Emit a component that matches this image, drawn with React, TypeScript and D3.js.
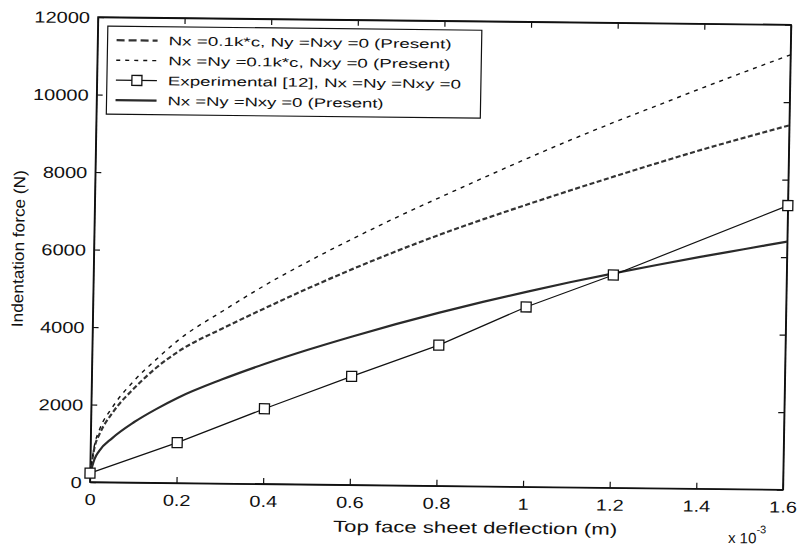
// Indentation force vs top face sheet deflection (scanned MATLAB figure)
import React, { useEffect, useRef } from 'react'
import * as d3 from 'd3'

// deflection in units of 10^-3 m, shared by the three "Present" curves
const deflection = [
  0, 0.01, 0.02, 0.05, 0.1, 0.15, 0.2, 0.3, 0.4, 0.5, 0.6, 0.7, 0.8, 0.9, 1.0,
  1.1, 1.2, 1.3, 1.4, 1.5, 1.6,
]
// Nx = 0.1k*c, Ny = Nxy = 0
const forceNx = [
  200, 930, 1230, 1800, 2450, 2980, 3400, 4000, 4550, 5080, 5580, 6050, 6490,
  6900, 7290, 7670, 8040, 8400, 8750, 9080, 9400,
]
// Nx = Ny = 0.1k*c, Nxy = 0
const forceNxNy = [
  200, 1000, 1350, 1950, 2650, 3200, 3700, 4450, 5150, 5780, 6370, 6930, 7460,
  7980, 8490, 8980, 9450, 9900, 10350, 10790, 11220,
]
// Nx = Ny = Nxy = 0
const forceZero = [
  200, 600, 800, 1140, 1560, 1900, 2200, 2680, 3100, 3480, 3830, 4160, 4470,
  4760, 5030, 5290, 5530, 5760, 5980, 6190, 6400,
]
// Experimental [12]
const expDeflection = [0, 0.2, 0.4, 0.6, 0.8, 1.0, 1.2, 1.6]
const expForce = [230, 1040, 1940, 2800, 3630, 4640, 5490, 7330]

const xTicks = [0, 0.2, 0.4, 0.6, 0.8, 1, 1.2, 1.4, 1.6]
const yTicks = [0, 2000, 4000, 6000, 8000, 10000, 12000]

const legendLabels = [
  'Nx =0.1k*c, Ny =Nxy =0 (Present)',
  'Nx =Ny =0.1k*c, Nxy =0 (Present)',
  'Experimental [12], Nx =Ny =Nxy =0',
  'Nx =Ny =Nxy =0 (Present)',
]
const legendWidths = [283, 282, 293, 216]

const FONT = "'Liberation Sans', Arial, Helvetica, sans-serif"

export default function App() {
  const ref = useRef<HTMLDivElement>(null)

  useEffect(() => {
    const root = d3.select(ref.current)
    root.selectAll('*').remove()

    const width = 693,
      height = 465

    const svg = root
      .append('svg')
      .attr('width', 797)
      .attr('height', 549)
      .style('position', 'absolute')
      .style('left', 0)
      .style('top', 0)
      .style('background', '#fff')

    // the scan is slightly tilted / sheared, so the whole figure is too
    const g = svg
      .append('g')
      .attr('transform', 'matrix(1,0.011,-0.0175,1,98,17)')

    const x = d3.scaleLinear().domain([0, 1.6]).range([0, width])
    const y = d3.scaleLinear().domain([0, 12000]).range([height, 0])

    // frame
    g.append('rect')
      .attr('width', width)
      .attr('height', height)
      .attr('fill', 'none')
      .attr('stroke', '#111')
      .attr('stroke-width', 1.4)

    // axes with inward ticks (matlab style)
    const xAxis = g
      .append('g')
      .attr('transform', 'translate(0,' + height + ')')
      .call(
        d3
          .axisBottom(x)
          .tickValues(xTicks)
          .tickSizeInner(-6)
          .tickSizeOuter(0)
          .tickFormat((d) => String(d))
      )
    xAxis
      .selectAll('text')
      .attr('y', 23)
      .attr('dy', null)
      .attr('transform', 'scale(1.25,1)')

    const yAxis = g.append('g').call(
      d3
        .axisLeft(y)
        .tickValues(yTicks)
        .tickSizeInner(-6)
        .tickSizeOuter(0)
        .tickFormat((d) => String(d))
    )
    yAxis
      .selectAll('text')
      .attr('x', 0)
      .attr('dy', '0.36em')
      .attr('transform', 'translate(-8,0) scale(1.25,1)')

    g.append('g').call(
      d3.axisTop(x).tickValues(xTicks).tickSizeInner(-6).tickSizeOuter(0).tickFormat(() => '')
    )
    g.append('g')
      .attr('transform', 'translate(' + width + ',0)')
      .call(
        d3.axisRight(y).tickValues(yTicks).tickSizeInner(-6).tickSizeOuter(0).tickFormat(() => '')
      )

    g.selectAll('.domain').attr('stroke', '#111').attr('stroke-width', 1.4)
    g.selectAll('.tick line').attr('stroke', '#111').attr('stroke-width', 1.2)
    g.selectAll('.tick text')
      .attr('fill', '#111')
      .style('font-family', FONT)
      .style('font-size', '16px')

    // axis labels
    g.append('text')
      .attr('x', 386)
      .attr('y', height + 47)
      .attr('text-anchor', 'middle')
      .attr('textLength', 284)
      .attr('lengthAdjust', 'spacingAndGlyphs')
      .style('font-family', FONT)
      .style('font-size', '16px')
      .attr('fill', '#111')
      .text('Top face sheet deflection (m)')

    const expo = g
      .append('text')
      .attr('x', 639)
      .attr('y', height + 54)
      .style('font-family', FONT)
      .style('font-size', '15px')
      .attr('fill', '#111')
    expo.append('tspan').text('x 10')
    expo.append('tspan').attr('dy', -10).style('font-size', '11px').text('-3')

    g.append('text')
      .attr('transform', 'translate(-70,' + height / 2 + ') rotate(-90)')
      .attr('text-anchor', 'middle')
      .attr('textLength', 157)
      .attr('lengthAdjust', 'spacingAndGlyphs')
      .style('font-family', FONT)
      .style('font-size', '16px')
      .attr('fill', '#111')
      .text('Indentation force (N)')

    // curves
    const smooth = d3
      .line<[number, number]>()
      .curve(d3.curveMonotoneX)
      .x((d) => x(d[0]))
      .y((d) => y(d[1]))
    const straight = d3
      .line<[number, number]>()
      .x((d) => x(d[0]))
      .y((d) => y(d[1]))

    const series = [
      { values: forceNx, color: '#333', w: 2.2, dash: '5 2.5' },
      { values: forceNxNy, color: '#111', w: 1.4, dash: '4 5' },
      { values: forceZero, color: '#2a2a2a', w: 2.2, dash: null },
    ]
    series.forEach((s) => {
      g.append('path')
        .datum(deflection.map((d, i) => [d, s.values[i]] as [number, number]))
        .attr('d', smooth)
        .attr('fill', 'none')
        .attr('stroke', s.color)
        .attr('stroke-width', s.w)
        .attr('stroke-dasharray', s.dash)
    })

    const expData = expDeflection.map((d, i) => [d, expForce[i]] as [number, number])
    g.append('path')
      .datum(expData)
      .attr('d', straight)
      .attr('fill', 'none')
      .attr('stroke', '#111')
      .attr('stroke-width', 1.2)
    g.selectAll('.exp-marker')
      .data(expData)
      .enter()
      .append('rect')
      .attr('class', 'exp-marker')
      .attr('x', (d) => x(d[0]) - 5)
      .attr('y', (d) => y(d[1]) - 5)
      .attr('width', 10)
      .attr('height', 10)
      .attr('fill', '#fff')
      .attr('stroke', '#111')
      .attr('stroke-width', 1.3)

    // legend
    const legend = g.append('g').attr('transform', 'translate(10,9)')
    legend
      .append('rect')
      .attr('width', 374)
      .attr('height', 88)
      .attr('fill', '#fff')
      .attr('stroke', '#111')
      .attr('stroke-width', 1.2)

    const samples = [
      { color: '#333', w: 2.2, dash: '8 4', marker: false },
      { color: '#111', w: 1.4, dash: '4 5', marker: false },
      { color: '#111', w: 1.2, dash: null, marker: true },
      { color: '#2a2a2a', w: 2.2, dash: null, marker: false },
    ]
    legendLabels.forEach((label, i) => {
      const row = legend.append('g').attr('transform', 'translate(0,' + (14 + i * 20) + ')')
      const s = samples[i]
      row
        .append('line')
        .attr('x1', 9)
        .attr('x2', 50)
        .attr('stroke', s.color)
        .attr('stroke-width', s.w)
        .attr('stroke-dasharray', s.dash)
      if (s.marker) {
        row
          .append('rect')
          .attr('x', 25)
          .attr('y', -5)
          .attr('width', 10)
          .attr('height', 10)
          .attr('fill', '#fff')
          .attr('stroke', '#111')
          .attr('stroke-width', 1.3)
      }
      row
        .append('text')
        .attr('x', 61)
        .attr('y', 4.5)
        .attr('textLength', legendWidths[i])
        .attr('lengthAdjust', 'spacingAndGlyphs')
        .style('font-family', FONT)
        .style('font-size', '12.5px')
        .attr('fill', '#111')
        .text(label)
    })
  }, [])

  return <div ref={ref}></div>
}
